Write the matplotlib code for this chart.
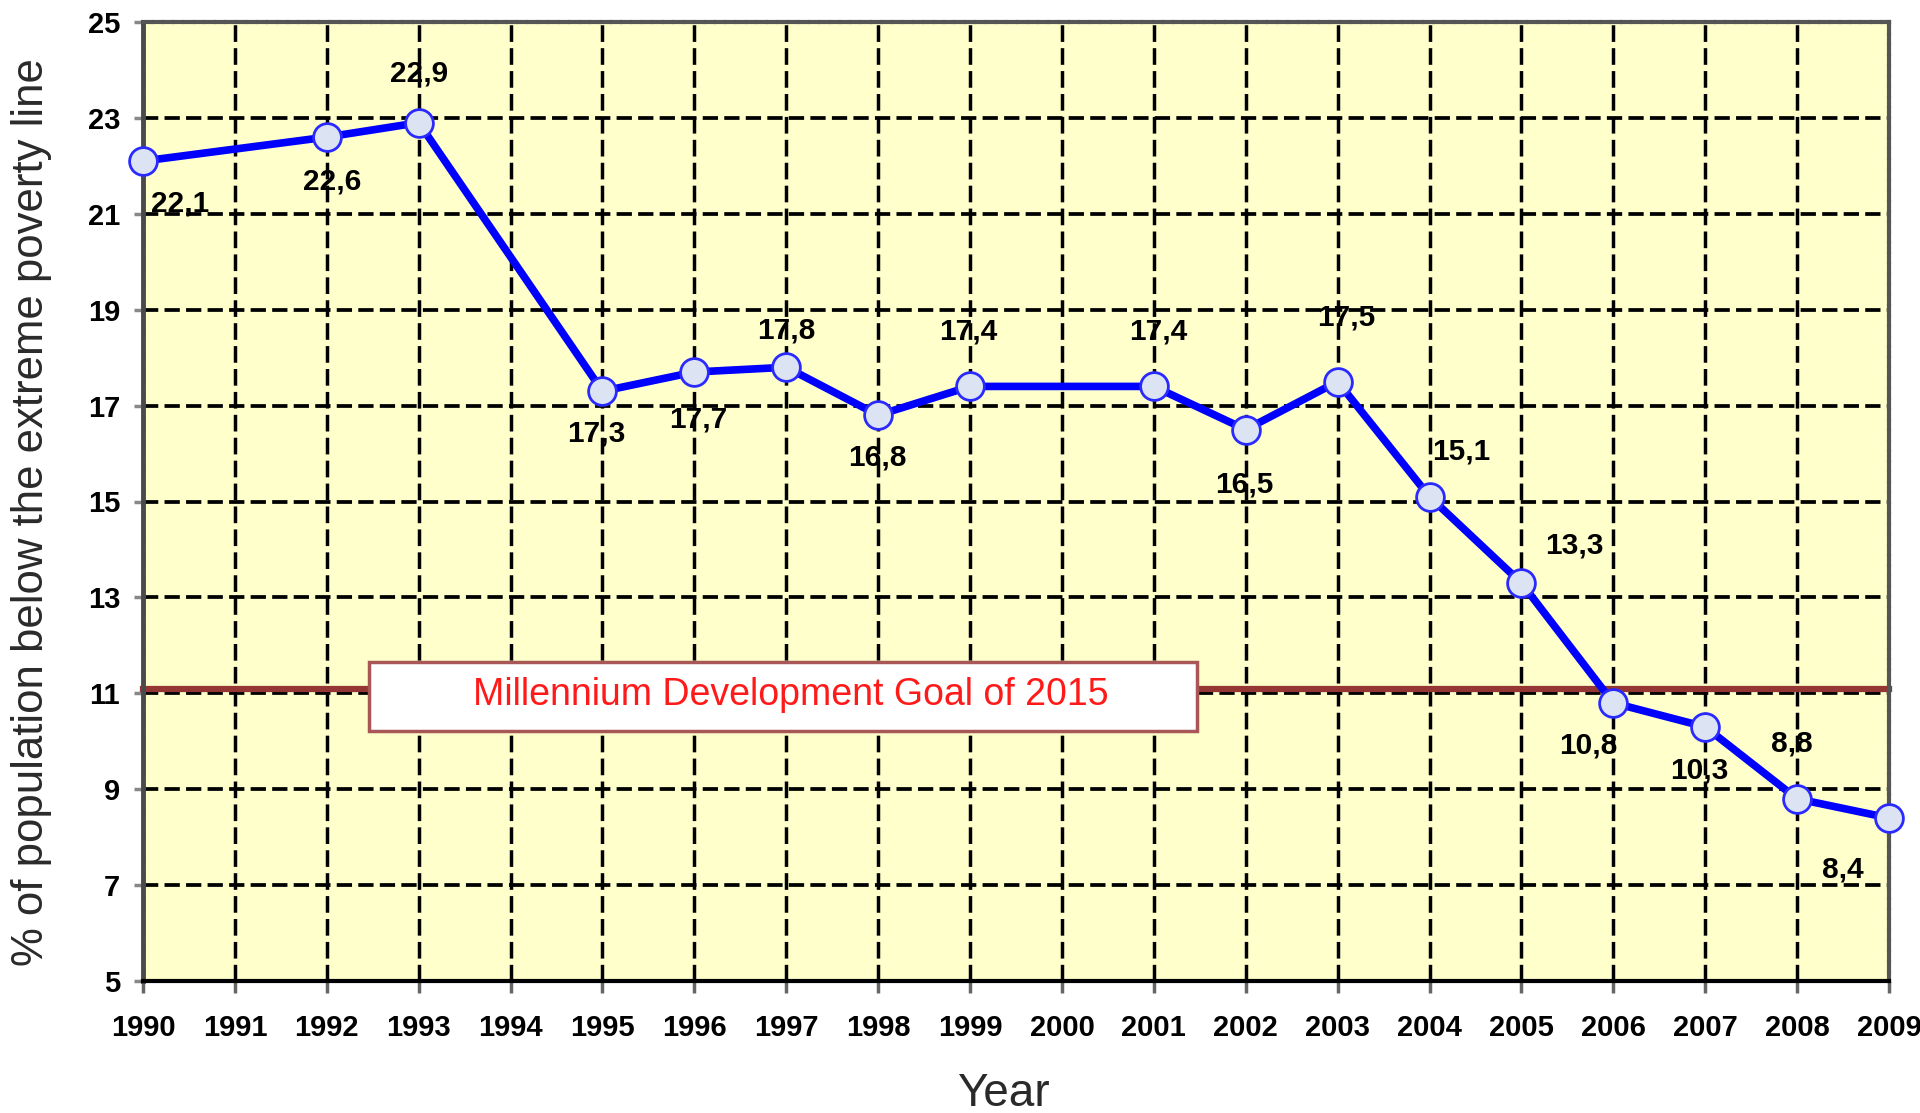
import matplotlib
matplotlib.use('Agg')
import matplotlib.pyplot as plt
from matplotlib.patches import Rectangle

years = [1990, 1992, 1993, 1995, 1996, 1997, 1998, 1999, 2001,
         2002, 2003, 2004, 2005, 2006, 2007, 2008, 2009]
poverty = [22.1, 22.6, 22.9, 17.3, 17.7, 17.8, 16.8, 17.4, 17.4,
           16.5, 17.5, 15.1, 13.3, 10.8, 10.3, 8.8, 8.4]
value_labels = ['22,1', '22,6', '22,9', '17,3', '17,7', '17,8', '16,8', '17,4', '17,4',
                '16,5', '17,5', '15,1', '13,3', '10,8', '10,3', '8,8', '8,4']
year_ticks = list(range(1990, 2010))
pct_ticks = list(range(5, 26, 2))
mdg_target = 11.1
mdg_text = 'Millennium Development Goal of 2015'

# where each value label sits relative to its point (pixels, +y is up)
label_offsets = [(37, -42), (5, -44), (0, 49), (-6, -42), (4, -47), (0, 37), (-1, -42),
                 (-2, 55), (4, 55), (-1, -55), (9, 64), (32, 45), (53, 38),
                 (-25, -43), (-6, -44), (-5, 55), (-46, -52)]

plt.rcParams['lines.scale_dashes'] = False
regular = ['Liberation Sans', 'DejaVu Sans']

fig = plt.figure(figsize=(19.2, 11.13), dpi=100)
ax = fig.add_axes([143 / 1920, 1 - 981 / 1113, (1889 - 143) / 1920, (981 - 22) / 1113])
ax.set_facecolor('#ffffcc')

ax.set_xlim(1990, 2009)
ax.set_ylim(5, 25)
ax.set_xticks(year_ticks)
ax.set_yticks(pct_ticks)
ax.set_xticklabels([str(y) for y in year_ticks], family=regular, fontweight='bold', fontsize=21)
ax.set_yticklabels([str(p) for p in pct_ticks], family=regular, fontweight='bold', fontsize=21)
ax.tick_params(axis='x', direction='out', length=8.5, width=2.5, color='#666666', pad=15)
ax.tick_params(axis='y', direction='out', length=6.5, width=2.5, color='#888888', pad=10)

ax.set_axisbelow(True)
ax.xaxis.grid(True, color='black', linewidth=2.5, linestyle=(0, (12, 4.5)))
ax.yaxis.grid(True, color='black', linewidth=2.7, linestyle=(0, (11, 4.5)))

for side in ['top', 'right']:
    ax.spines[side].set_color('#555555')
    ax.spines[side].set_linewidth(3)
    ax.spines[side].set_linestyle((0, (6, 1.5)))
ax.spines['left'].set_color('#4a4a4a')
ax.spines['left'].set_linewidth(3.5)
ax.spines['bottom'].set_color('black')
ax.spines['bottom'].set_linewidth(3)

# MDG target line and box
ax.axhline(mdg_target, color='#943634', linewidth=4.5, zorder=2, clip_on=False)
ax.add_patch(Rectangle((1992.46, 10.21), 9.01, 1.44, facecolor='white',
                       edgecolor='#a85656', linewidth=2.5, zorder=3))
ax.text(1997.05, 10.96, mdg_text, color='#ff1a1a', fontsize=27, family=regular,
        ha='center', va='center', zorder=4)

ax.plot(years, poverty, color='#0000ff', linewidth=5.5, marker='o', markersize=20,
        markerfacecolor='#dce4f4', markeredgecolor='#2a2aff', markeredgewidth=2,
        zorder=5, clip_on=False)

for x, y, lab, off in zip(years, poverty, value_labels, label_offsets):
    ax.annotate(lab, (x, y), xytext=off, textcoords='offset pixels', ha='center',
                va='center', fontsize=21.5, fontweight='bold', family=regular, zorder=6)

ax.set_ylabel('% of population below the extreme poverty line', fontsize=31.5,
              family=regular, color='#2a2a2a', labelpad=26)
ax.yaxis.label.set_y(0.489)
ax.set_xlabel('Year', fontsize=33, family=regular, color='#2a2a2a', labelpad=22)
ax.xaxis.label.set_x(0.493)

fig.savefig('out.png', dpi=100, facecolor='white')
